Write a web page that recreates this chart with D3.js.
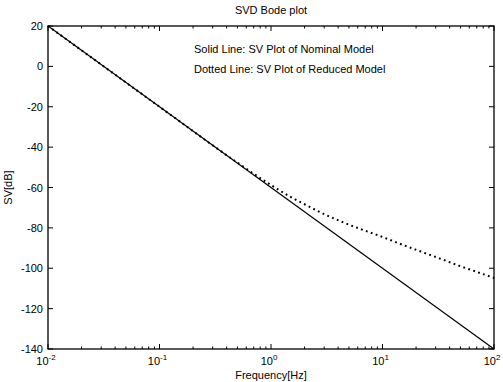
<!DOCTYPE html>
<html>
<head>
<meta charset="utf-8">
<script src="https://cdn.jsdelivr.net/npm/d3@7"></script>
<style>
  body { margin: 0; background: #fff; }
  text { font-family: "Liberation Sans", Arial, sans-serif; fill: #000; }
</style>
</head>
<body>
<div id="chart"></div>
<script>
// data
const nominalFreq = [0.01, 100];
const nominalDb = [20, -140];
const reducedFreq = [0.01, 0.1, 0.5, 1, 1.5, 2, 3, 4.5, 6.3, 10, 15, 22, 32, 50, 70, 100];
const reducedDb = [20, -20, -47.7, -58.8, -64.7, -68.3, -73.2, -77.4, -80.5, -84.5, -88.3, -91.7, -95, -99, -101.8, -104.8];
const yTicks = [20, 0, -20, -40, -60, -80, -100, -120, -140];
const xTicks = [0.01, 0.1, 1, 10, 100];
const xTickExp = ["-2", "-1", "0", "1", "2"];

const W = 503, H = 382;
const margin = { top: 26, right: 9, bottom: 33, left: 48 };
const pw = W - margin.left - margin.right;
const ph = H - margin.top - margin.bottom;

const svg = d3.select("#chart").append("svg")
  .attr("width", W).attr("height", H);

const g = svg.append("g")
  .attr("transform", `translate(${margin.left},${margin.top})`);

const x = d3.scaleLog().domain([0.01, 100]).range([0, pw]);
const y = d3.scaleLinear().domain([-140, 20]).range([ph, 0]);

// frame
g.append("rect")
  .attr("width", pw).attr("height", ph)
  .attr("fill", "none").attr("stroke", "#000").attr("stroke-width", 1.3);

// minor + major ticks on log axis (inward, top and bottom)
const minor = [];
for (let e = -2; e < 2; e++) {
  for (let k = 2; k < 10; k++) minor.push(k * Math.pow(10, e));
}
[0, ph].forEach(y0 => {
  const dir = y0 === 0 ? 1 : -1;
  g.append("g").selectAll("line").data(minor).join("line")
    .attr("x1", d => x(d)).attr("x2", d => x(d))
    .attr("y1", y0).attr("y2", y0 + dir * 2.5)
    .attr("stroke", "#000");
  g.append("g").selectAll("line").data(xTicks).join("line")
    .attr("x1", d => x(d)).attr("x2", d => x(d))
    .attr("y1", y0).attr("y2", y0 + dir * 5)
    .attr("stroke", "#000");
});

// y ticks left and right
[0, pw].forEach(x0 => {
  const dir = x0 === 0 ? 1 : -1;
  g.append("g").selectAll("line").data(yTicks).join("line")
    .attr("x1", x0).attr("x2", x0 + dir * 5)
    .attr("y1", d => y(d)).attr("y2", d => y(d))
    .attr("stroke", "#000");
});

// y tick labels
g.append("g").selectAll("text").data(yTicks).join("text")
  .attr("x", -5).attr("y", d => y(d) + 4)
  .attr("text-anchor", "end")
  .attr("font-size", 11)
  .text(d => d);

// x tick labels 10^n
const xl = g.append("g").selectAll("text").data(xTicks).join("text")
  .attr("x", (d, i) => x(d) - 2)
  .attr("y", ph + 16)
  .attr("text-anchor", "middle")
  .attr("font-size", 11);
xl.append("tspan").text("10");
xl.append("tspan").attr("dy", -5).attr("font-size", 8).text((d, i) => xTickExp[i]);

// lines
const line = d3.line().x(d => x(d[0])).y(d => y(d[1]));

g.append("path")
  .datum(nominalFreq.map((f, i) => [f, nominalDb[i]]))
  .attr("d", line)
  .attr("fill", "none").attr("stroke", "#000").attr("stroke-width", 1.2);

g.append("path")
  .datum(reducedFreq.map((f, i) => [f, reducedDb[i]]))
  .attr("d", line.curve(d3.curveMonotoneX))
  .attr("fill", "none").attr("stroke", "#000").attr("stroke-width", 2)
  .attr("stroke-dasharray", "1.8,3.4");

// title and labels
svg.append("text")
  .attr("x", margin.left + pw / 2).attr("y", 14)
  .attr("text-anchor", "middle").attr("font-size", 11)
  .text("SVD Bode plot");

svg.append("text")
  .attr("x", margin.left + pw / 2).attr("y", H - 3)
  .attr("text-anchor", "middle").attr("font-size", 11)
  .text("Frequency[Hz]");

svg.append("text")
  .attr("transform", `translate(12,${margin.top + ph / 2}) rotate(-90)`)
  .attr("text-anchor", "middle").attr("font-size", 11)
  .text("SV[dB]");

svg.append("text")
  .attr("x", 194).attr("y", 53).attr("font-size", 11)
  .text("Solid Line: SV Plot of Nominal Model");
svg.append("text")
  .attr("x", 194).attr("y", 73).attr("font-size", 11)
  .text("Dotted Line: SV Plot of Reduced Model");
</script>
</body>
</html>
